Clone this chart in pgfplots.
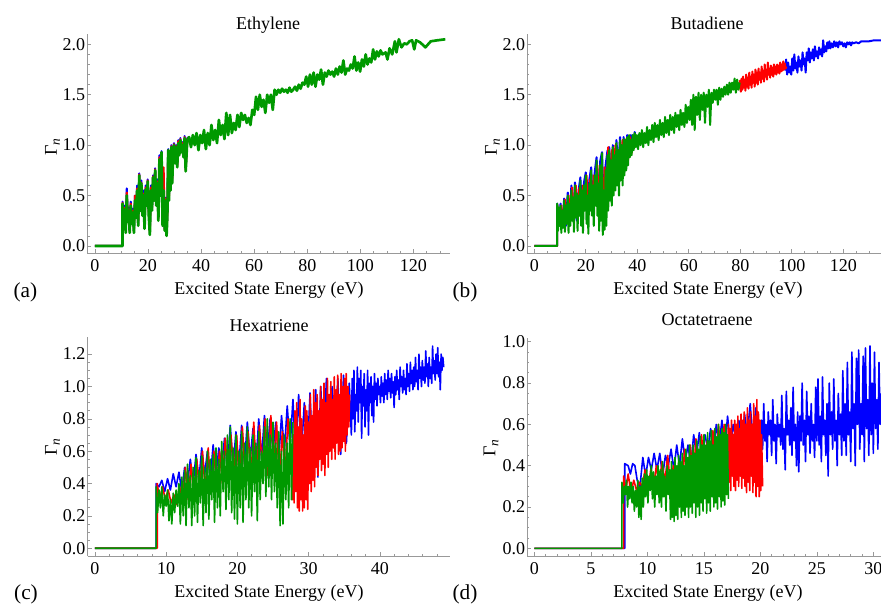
\documentclass[border=0pt]{standalone}
\usepackage{fontspec}
\setmainfont{Liberation Serif}
\usepackage{pgfplots}
\pgfplotsset{compat=1.18}
\definecolor{mblue}{rgb}{0,0,1}
\definecolor{mred}{rgb}{1,0,0}
\definecolor{mgreen}{rgb}{0,0.6,0}
\definecolor{axgray}{gray}{0.6}
\newcommand\ff{\fontsize{13.5}{16}\selectfont}
\newcommand\gam{{\ff Γ\raisebox{-0.35ex}{\fontsize{10}{12}\selectfont\itshape n}}}
\pgfplotsset{
 panel/.style={
  anchor=south west,
  axis x line=bottom, axis y line=left,
  axis line style={-, draw=axgray, line width=0.6pt},
  tick style={draw=axgray, line width=0.5pt},
  major tick length=3pt, minor tick length=1.6pt,
  tick align=inside,
  enlargelimits=false,
  ticklabel style={font=\ff, text=black},
  /pgf/number format/assume math mode=true,
  xticklabel style={anchor=north, inner sep=0pt, yshift=-5pt},
  yticklabel style={anchor=east, inner sep=0pt, xshift=-1.5pt,
    /pgf/number format/fixed, /pgf/number format/fixed zerofill, /pgf/number format/precision=1},
  every axis plot/.append style={line width=1.5pt, line join=round, mark=none},
 },
 thin panel/.style={every axis plot/.append style={line width=1.2pt}},
}
\begin{document}
\begin{tikzpicture}
\path[use as bounding box] (0,0) rectangle (660.75pt,454.5pt);
% ---------------- (a) Ethylene
\begin{axis}[panel, at={(65.6pt,264.75pt)}, x=1.991pt, y=75.6pt,
  xmin=-2.8, xmax=133.8, ymin=-0.07, ymax=2.10,
  xtick={0,20,40,60,80,100,120}, minor xtick={5,10,...,130},
  ytick={0,0.5,1.0,1.5,2.0}, minor y tick num=4]
\addplot[mblue] coordinates {(0,0) (10.4,0) (10.4,0.44) (10.8,0.25) (11.2,0.4) (11.6,0.16) (12.0,0.57) (12.4,0.3) (12.8,0.38) (13.1,0.15) (13.5,0.44) (13.9,0.25) (14.3,0.37) (14.7,0.15) (15.1,0.5) (15.5,0.3) (15.9,0.6) (16.3,0.22) (16.7,0.72) (17.1,0.38) (17.5,0.65) (17.9,0.32) (18.3,0.55) (18.7,0.2) (19.1,0.6) (19.5,0.42) (19.9,0.66) (20.3,0.33) (20.7,0.14) (21.1,0.6) (21.5,0.38) (21.9,0.7) (22.3,0.48) (22.7,0.77) (23.1,0.42) (23.5,0.66) (23.9,0.28) (24.3,0.9) (24.7,0.52) (25.1,0.94) (25.5,0.22) (25.9,0.58) (26.3,0.17) (26.7,0.48) (27.0,0.13) (27.3,0.35) (27.6,0.96) (27.9,0.5) (28.2,0.93) (28.5,0.6) (28.8,1.0) (29.1,0.65) (29.4,0.9) (29.8,1.02) (30.2,0.85) (30.6,1.0) (31.0,0.8) (31.4,1.05) (31.8,0.92) (32.2,1.07) (32.6,0.95) (33.0,1.03) (33.4,0.9) (33.8,1.09) (34.2,0.76) (34.8,1.07) (35.5,1.08)};
\addplot[mred] coordinates {(0,0) (10.4,0) (10.4,0.43) (10.8,0.22) (11.2,0.38) (11.6,0.15) (12.0,0.53) (12.4,0.27) (12.8,0.36) (13.1,0.14) (13.5,0.42) (13.9,0.24) (14.3,0.35) (14.7,0.14) (15.1,0.5) (15.5,0.29) (15.9,0.57) (16.3,0.21) (16.7,0.71) (17.1,0.37) (17.5,0.63) (17.9,0.31) (18.3,0.52) (18.7,0.19) (19.1,0.58) (19.5,0.41) (19.9,0.65) (20.3,0.32) (20.7,0.13) (21.1,0.58) (21.5,0.37) (21.9,0.69) (22.3,0.47) (22.7,0.76) (23.1,0.41) (23.5,0.64) (23.9,0.27) (24.3,0.88) (24.7,0.51) (25.1,0.93) (25.5,0.21) (25.9,0.78) (26.3,0.16) (26.7,0.47) (27.0,0.12) (27.3,0.33) (27.6,0.95) (27.9,0.48) (28.2,0.9) (28.5,0.58) (28.8,0.99) (29.1,0.64) (29.4,0.88) (29.8,1.01) (30.2,0.84) (30.6,0.99) (31.0,0.79) (31.4,1.04) (31.8,0.91) (32.2,1.06) (32.6,0.94) (33.0,1.02) (33.4,0.89) (33.8,1.08) (34.2,0.75) (34.8,1.06) (35.5,1.08)};
\addplot[mgreen, line width=2pt] coordinates {(0,0) (10.4,0) (10.4,0.42) (10.8,0.2) (11.2,0.36) (11.6,0.13) (12.0,0.5) (12.4,0.24) (12.8,0.35) (13.1,0.13) (13.5,0.4) (13.9,0.22) (14.3,0.33) (14.7,0.13) (15.1,0.45) (15.5,0.28) (15.9,0.55) (16.3,0.2) (16.7,0.7) (17.1,0.35) (17.5,0.62) (17.9,0.3) (18.3,0.5) (18.7,0.17) (19.1,0.56) (19.5,0.4) (19.9,0.64) (20.3,0.3) (20.7,0.11) (21.1,0.55) (21.5,0.35) (21.9,0.68) (22.3,0.45) (22.7,0.75) (23.1,0.4) (23.5,0.62) (23.9,0.25) (24.3,0.86) (24.7,0.5) (25.1,0.93) (25.5,0.2) (25.9,0.55) (26.3,0.15) (26.7,0.45) (27.0,0.1) (27.3,0.3) (27.6,0.95) (27.9,0.45) (28.2,0.88) (28.5,0.55) (28.8,0.98) (29.1,0.62) (29.4,0.85) (29.8,1.0) (30.2,0.82) (30.6,0.98) (31.0,0.78) (31.4,1.02) (31.8,0.9) (32.2,1.05) (32.6,0.93) (33.0,1.0) (33.4,0.88) (33.8,1.07) (34.2,0.74) (34.8,1.05)
(35.5,1.08) (36.2,0.98) (36.9,1.1) (37.6,1.0) (38.3,1.12) (39,0.95) (39.7,1.1) (40.4,1.02) (41.1,1.15) (41.8,0.96) (42.5,1.12) (43.2,1.0) (43.9,1.2) (44.6,1.05) (45.3,1.15) (46,1.02) (46.7,1.25) (47.4,1.1) (48.1,1.2) (48.8,1.06) (49.5,1.32) (50.2,1.1) (50.9,1.3) (51.6,1.12) (52.3,1.22) (53,1.15) (53.7,1.3) (54.4,1.18) (55.1,1.32) (55.8,1.25) (56.5,1.3) (57.2,1.22) (57.9,1.27) (58.6,1.2) (59.3,1.35) (60,1.3) (60.7,1.48) (61.4,1.35) (62.1,1.5) (62.8,1.38) (63.5,1.45) (64.2,1.32) (64.9,1.5) (65.6,1.42) (66.3,1.5) (67,1.35) (67.7,1.55) (68.4,1.5) (69.1,1.55) (69.8,1.52) (70.5,1.56) (71.2,1.53) (71.9,1.55) (72.6,1.52) (73.3,1.57) (74,1.53) (74.7,1.55) (75.4,1.58) (76.1,1.54) (76.8,1.6) (77.5,1.56) (78.2,1.62) (78.9,1.6) (79.6,1.68) (80.3,1.58) (81,1.7) (81.7,1.6) (82.4,1.72) (83.1,1.58) (83.8,1.7) (84.5,1.65) (85.2,1.75) (85.9,1.6) (86.6,1.72) (87.3,1.68) (88,1.74) (88.7,1.7) (89.4,1.73) (90.1,1.68) (90.8,1.76) (91.5,1.7) (92.2,1.78) (92.9,1.72) (93.6,1.84) (94.3,1.7) (95,1.76) (95.7,1.74) (96.4,1.8) (97.1,1.76) (97.8,1.88) (98.5,1.74) (99.2,1.82) (99.9,1.73) (100.6,1.85) (101.3,1.78) (102,1.9) (102.7,1.8) (103.4,1.86) (104.1,1.82) (104.8,1.95) (105.5,1.85) (106.2,1.93) (106.9,1.88) (107.6,1.94) (108.3,1.9) (109.5,1.92) (110.2,1.85) (111,1.96) (112,1.9) (113,2.03) (113.6,1.92) (114.5,2.05) (115.5,1.97) (116.5,2.01) (117.5,2.0) (118.5,2.03) (119.5,2.04) (120.3,1.95) (121,2.04) (122.5,2.02) (124.5,1.97) (126.5,2.03) (129,2.04) (132,2.05)};
\end{axis}
% ---------------- (b) Butadiene
\begin{axis}[panel, at={(395.5pt,264.75pt)}, x=1.931pt, y=75.6pt,
  xmin=-2.7, xmax=134.6, ymin=-0.07, ymax=2.10,
  xtick={0,20,40,60,80,100,120}, minor xtick={5,10,...,130},
  ytick={0,0.5,1.0,1.5,2.0}, minor y tick num=4]
\addplot[mblue] coordinates {(0,0) (8.9,0) (8.9,0.42) (9.5,0.2) (10.2,0.42) (10.9,0.2) (11.6,0.47) (12.3,0.2) (13.0,0.53) (13.7,0.2) (14.4,0.6) (15.1,0.25) (15.8,0.63) (16.5,0.25) (17.2,0.55) (17.9,0.68) (18.6,0.3) (19.3,0.63) (20.0,0.73) (20.7,0.3) (21.4,0.66) (22.1,0.78) (22.8,0.35) (23.5,0.74) (24.2,0.88) (24.9,0.4) (25.6,0.84) (26.3,0.93) (27.0,0.4) (27.7,0.8) (28.4,0.94) (29.1,0.98) (29.8,0.6) (30.5,1.0) (31.2,0.7) (31.9,1.05) (32.6,0.75) (33.3,1.08) (34.0,0.8) (34.7,1.08) (35.4,0.85) (36.1,1.1) (36.8,0.9) (37.5,1.1) (38.2,0.95) (39.0,1.13) (39.8,1.0)};
\addplot[mblue] coordinates {(97.5,1.74) (97.8,1.85) (98.2,1.7) (98.6,1.82) (99.0,1.72) (99.4,1.78) (99.8,1.7) (100.2,1.86) (100.6,1.74) (101.0,1.9) (101.4,1.76) (101.8,1.82) (102.2,1.72) (102.6,1.88) (103.0,1.78) (103.4,1.84) (103.8,1.74) (104.2,1.92) (104.6,1.8) (105.0,1.86) (105.4,1.72) (105.8,1.92) (106.2,1.84) (106.6,1.96) (107.0,1.82) (107.4,1.92) (107.8,1.86) (108.2,1.95) (108.6,1.84) (109.0,1.98) (109.4,1.88) (109.8,1.93) (110.2,1.86) (110.6,1.97) (111.0,1.9) (111.4,1.95) (111.8,1.88) (112.2,2.04) (112.6,1.92) (113.0,1.98) (113.4,1.93) (113.8,2.02) (114.2,1.96) (114.6,2.03) (115.0,1.96) (115.5,2.01) (116.0,1.97) (116.5,2.03) (117.0,1.98) (117.5,2.02) (118.0,1.97) (118.5,2.03) (119.0,2.0) (119.5,2.02) (120.0,1.98) (120.5,2.01) (121.0,1.97) (121.5,2.02) (122.0,2.0) (122.5,2.02) (123.0,1.99) (123.5,2.02) (124.0,2.01) (125.0,2.02) (126.0,2.01) (127.0,2.03) (128.5,2.03) (130,2.03) (132,2.04) (134.6,2.04)};
\addplot[mred] coordinates {(0,0) (8.9,0) (8.9,0.41) (9.8,0.22) (10.5,0.4) (11.2,0.22) (11.9,0.46) (12.6,0.25) (13.3,0.5) (14.0,0.25) (14.7,0.58) (15.4,0.28) (16.1,0.6) (16.8,0.3) (17.5,0.58) (18.2,0.3) (18.9,0.6) (19.6,0.38) (20.3,0.7) (21.0,0.3) (21.7,0.66) (22.4,0.4) (23.1,0.7) (23.8,0.45) (24.5,0.8) (25.2,0.3) (25.9,0.75) (26.6,0.25) (27.3,0.78) (28.0,0.35) (28.7,0.98) (29.4,0.55) (30.1,0.95) (30.8,0.6) (31.5,1.0) (32.2,0.7) (32.9,0.95) (33.6,0.75) (34.3,1.05) (35.0,0.8) (35.7,1.06) (36.4,0.85) (37.1,1.08) (37.8,0.92) (38.6,1.05) (39.4,1.0)};
\addplot[mred] coordinates {(79.6,1.56) (79.9,1.64) (80.2,1.53) (80.5,1.66) (80.8,1.55) (81.1,1.68) (81.4,1.57) (81.7,1.65) (82.0,1.54) (82.3,1.7) (82.6,1.58) (82.9,1.67) (83.2,1.56) (83.5,1.72) (83.8,1.6) (84.1,1.68) (84.4,1.57) (84.7,1.73) (85.0,1.62) (85.3,1.7) (85.6,1.58) (85.9,1.75) (86.2,1.62) (86.5,1.72) (86.8,1.6) (87.1,1.76) (87.4,1.65) (87.7,1.72) (88.0,1.62) (88.3,1.78) (88.6,1.66) (88.9,1.74) (89.2,1.63) (89.5,1.8) (89.8,1.68) (90.1,1.75) (90.4,1.65) (90.7,1.82) (91.0,1.7) (91.3,1.76) (91.6,1.67) (91.9,1.79) (92.2,1.7) (92.5,1.77) (92.8,1.68) (93.1,1.8) (93.4,1.71) (93.7,1.78) (94.0,1.7) (94.3,1.8) (94.6,1.72) (94.9,1.79) (95.2,1.71) (95.5,1.82) (95.8,1.73) (96.1,1.8) (96.4,1.74) (96.7,1.83) (97.0,1.75) (97.3,1.81) (97.6,1.76) (97.9,1.78)};
\addplot[mgreen] coordinates {(0,0) (8.9,0) (8.9,0.42) (9.2,0.15) (9.5,0.38) (9.8,0.2) (10.2,0.4) (10.5,0.13) (10.9,0.35) (11.2,0.18) (11.6,0.45) (11.9,0.14) (12.3,0.4) (12.6,0.22) (13.0,0.5) (13.3,0.13) (13.7,0.42) (14.0,0.2) (14.4,0.55) (14.7,0.25) (15.1,0.48) (15.4,0.14) (15.8,0.6) (16.1,0.28) (16.5,0.52) (16.8,0.15) (17.2,0.5) (17.5,0.3) (17.9,0.65) (18.2,0.2) (18.6,0.55) (18.9,0.13) (19.3,0.6) (19.6,0.35) (20.0,0.7) (20.3,0.22) (20.7,0.5) (21.0,0.12) (21.4,0.62) (21.7,0.35) (22.1,0.75) (22.4,0.3) (22.8,0.6) (23.1,0.2) (23.5,0.7) (23.8,0.4) (24.2,0.85) (24.5,0.3) (24.9,0.62) (25.2,0.15) (25.6,0.8) (25.9,0.25) (26.3,0.92) (26.6,0.11) (27.0,0.55) (27.3,0.16) (27.7,0.75) (28.0,0.2) (28.4,0.9) (28.7,0.35) (29.1,0.95) (29.4,0.45) (29.8,0.85) (30.1,0.4) (30.5,0.98) (30.8,0.5) (31.2,0.9) (31.5,0.55) (31.9,1.02) (32.2,0.6) (32.6,0.95) (32.9,0.5) (33.3,1.05) (33.6,0.65) (34.0,1.0) (34.3,0.6) (34.7,1.06) (35.0,0.7) (35.4,1.05) (35.7,0.75) (36.1,1.08) (36.4,0.8) (36.8,1.1) (37.1,0.88) (37.5,1.05) (37.8,0.9) (38.2,1.1) (38.6,0.95) (39.0,1.12) (39.4,0.98) (39.8,1.1)
(40.3,0.96) (40.8,1.12) (41.3,1.0) (41.8,1.15) (42.3,0.98) (42.8,1.12) (43.3,1.02) (43.8,1.18) (44.3,1.0) (44.8,1.15) (45.3,1.05) (45.8,1.2) (46.3,1.03) (46.8,1.22) (47.3,1.08) (47.8,1.2) (48.3,1.05) (48.8,1.25) (49.3,1.1) (49.8,1.22) (50.3,1.08) (50.8,1.28) (51.3,1.12) (51.8,1.25) (52.3,1.1) (52.8,1.3) (53.3,1.15) (53.8,1.28) (54.3,1.12) (54.8,1.32) (55.3,1.18) (55.8,1.3) (56.3,1.15) (56.8,1.35) (57.3,1.2) (57.8,1.32) (58.3,1.18) (58.8,1.4) (59.3,1.22) (59.8,1.38) (60.3,1.25) (60.8,1.45) (61.3,1.2) (61.8,1.5) (62.3,1.15) (62.8,1.48) (63.3,1.3) (63.8,1.52) (64.3,1.25) (64.8,1.5) (65.3,1.35) (65.8,1.52) (66.3,1.22) (66.8,1.5) (67.3,1.38) (67.8,1.55) (68.3,1.2) (68.8,1.52) (69.3,1.42) (69.8,1.55) (70.3,1.45) (70.8,1.55) (71.3,1.4) (71.8,1.57) (72.3,1.45) (72.8,1.56) (73.3,1.48) (73.8,1.58) (74.3,1.5) (74.8,1.6) (75.3,1.5) (75.8,1.62) (76.3,1.52) (76.8,1.62) (77.3,1.55) (77.8,1.66) (78.3,1.52) (78.8,1.65) (79.3,1.55) (79.8,1.62)};
\end{axis}
% ---------------- (c) Hexatriene
\begin{axis}[panel, thin panel, at={(65.8pt,37.5pt)}, x=5.344pt, y=121.3pt,
  xmin=-1.0, xmax=49.8, ymin=-0.048, ymax=1.303,
  xtick={0,10,20,30,40}, minor xtick={2,4,...,48},
  ytick={0,0.2,0.4,0.6,0.8,1.0,1.2}, minor y tick num=3]
\addplot[mblue] coordinates {(0,0) (8.6,0) (8.6,0.4) (9.0,0.38) (9.4,0.42) (9.8,0.35) (10.2,0.43) (10.6,0.36) (11.0,0.46) (11.4,0.38) (11.8,0.47) (12.2,0.35) (12.6,0.5) (13.0,0.4) (13.4,0.55) (13.8,0.4) (14.2,0.58) (14.6,0.42) (15.0,0.62) (15.4,0.45) (15.8,0.6) (16.2,0.42) (16.6,0.64) (17.0,0.45) (17.4,0.62) (17.8,0.5) (18.2,0.68) (18.6,0.48) (19.0,0.76) (19.4,0.5) (19.8,0.72) (20.2,0.5) (20.6,0.76) (21.0,0.52) (21.4,0.78) (21.8,0.55) (22.2,0.74) (22.6,0.5) (23.0,0.8) (23.4,0.55) (23.8,0.82) (24.2,0.58) (24.6,0.8) (25.0,0.6) (25.4,0.78) (25.8,0.55) (26.2,0.82) (26.6,0.6) (27.0,0.88) (27.4,0.62) (27.8,0.92) (28.2,0.55) (28.6,0.95) (29.0,0.6) (29.4,0.9) (29.8,0.55) (30.2,0.96) (30.6,0.5) (31.0,0.98) (31.3,0.44) (31.7,1.0) (32.1,0.6) (32.5,1.05) (32.9,0.65) (33.3,1.0) (33.7,0.62) (34.1,1.05) (34.5,0.58) (34.9,1.07) (35.3,0.65) (35.7,1.02)
(36.0,0.7) (36.12,1.05) (36.24,0.8) (36.36,1.1) (36.48,0.72) (36.6,0.95) (36.72,0.85) (36.84,1.12) (36.96,0.78) (37.08,1.05) (37.2,0.9) (37.32,1.1) (37.44,0.68) (37.56,1.0) (37.68,0.88) (37.8,1.08) (37.92,0.75) (38.04,0.98) (38.16,0.85) (38.28,1.1) (38.4,0.7) (38.52,1.02) (38.64,0.9) (38.76,1.06) (38.88,0.82) (39.0,1.0) (39.12,0.78) (39.24,1.08) (39.36,0.92) (39.48,1.02) (39.6,0.88) (39.72,1.05) (39.84,0.95) (39.96,1.0) (40.08,0.9) (40.2,1.06) (40.32,0.94) (40.44,1.02) (40.56,0.9) (40.68,1.08) (40.8,0.95) (40.92,1.04) (41.04,0.92) (41.16,1.1) (41.28,0.97) (41.4,1.05) (41.52,0.93) (41.64,1.08) (41.76,0.96) (41.88,1.03) (42.0,0.87) (42.12,1.06) (42.24,0.95) (42.36,1.1) (42.48,0.98) (42.6,1.04) (42.72,0.92) (42.84,1.12) (42.96,1.0) (43.08,1.06) (43.2,0.96) (43.32,1.1) (43.44,0.98) (43.56,1.05) (43.68,0.95) (43.8,1.14) (43.92,1.0) (44.04,1.08) (44.16,0.97) (44.28,1.15) (44.4,1.02) (44.52,1.1) (44.64,0.98) (44.76,1.12) (44.88,1.0) (45.0,1.18) (45.12,1.03) (45.24,1.1) (45.36,0.98) (45.48,1.2) (45.6,1.05) (45.72,1.12) (45.84,1.0) (45.96,1.16) (46.08,1.04) (46.2,1.12) (46.32,1.02) (46.44,1.22) (46.56,1.06) (46.68,1.14) (46.8,1.0) (46.92,1.18) (47.04,1.05) (47.16,1.12) (47.28,1.02) (47.4,1.25) (47.52,1.08) (47.64,1.16) (47.76,1.04) (47.88,1.2) (48.0,1.08) (48.12,1.24) (48.24,1.06) (48.36,1.15) (48.48,0.98) (48.6,1.2) (48.72,1.1) (48.84,1.18) (48.96,1.12)};
\addplot[mred] coordinates {(0,0) (8.75,0) (8.75,0.4) (9.1,0.3) (9.5,0.38) (9.9,0.3) (10.3,0.36) (10.7,0.28) (11.1,0.33) (11.5,0.27) (11.9,0.38) (12.3,0.28) (12.7,0.5) (13.1,0.3) (13.5,0.52) (13.9,0.3) (14.3,0.55) (14.7,0.35) (15.1,0.6) (15.5,0.35) (15.9,0.62) (16.3,0.35) (16.7,0.6) (17.1,0.38) (17.5,0.6) (17.9,0.4) (18.3,0.68) (18.7,0.4) (19.1,0.7) (19.5,0.45) (19.9,0.7) (20.3,0.38) (20.7,0.75) (21.1,0.45) (21.5,0.72) (21.9,0.42) (22.3,0.78) (22.7,0.45) (23.1,0.76) (23.5,0.5) (23.9,0.8) (24.3,0.45) (24.7,0.82) (25.1,0.5) (25.5,0.78) (25.9,0.4) (26.3,0.72) (26.7,0.45) (27.1,0.8)
(27.6,0.55) (27.72,0.3) (27.84,0.7) (27.96,0.28) (28.08,0.85) (28.2,0.35) (28.32,0.9) (28.44,0.25) (28.56,0.75) (28.68,0.23) (28.8,0.92) (28.92,0.3) (29.04,0.8) (29.16,0.23) (29.28,0.7) (29.4,0.25) (29.52,0.88) (29.64,0.3) (29.76,0.85) (29.88,0.24) (30.0,0.78) (30.12,0.4) (30.24,0.95) (30.36,0.35) (30.48,0.82) (30.6,0.42) (30.72,0.98) (30.84,0.38) (30.96,0.9) (31.08,0.5) (31.2,0.95) (31.32,0.45) (31.44,0.85) (31.56,0.55) (31.68,1.0) (31.8,0.48) (31.92,0.92) (32.04,0.52) (32.16,1.02) (32.28,0.45) (32.4,0.9) (32.52,0.58) (32.64,1.05) (32.76,0.5) (32.88,0.95) (33.0,0.6) (33.12,1.03) (33.24,0.55) (33.36,0.92) (33.48,0.62) (33.6,1.06) (33.72,0.55) (33.84,0.98) (33.96,0.65) (34.08,1.07) (34.2,0.58) (34.32,0.95) (34.44,0.6) (34.56,1.08) (34.68,0.62) (34.8,1.0) (34.92,0.66) (35.04,1.05) (35.16,0.6) (35.28,1.08) (35.4,0.7) (35.52,1.0) (35.64,0.75) (35.76,0.95)};
\addplot[mgreen] coordinates {(0,0) (8.6,0) (8.6,0.38) (8.8,0.22) (9.0,0.36) (9.2,0.25) (9.4,0.38) (9.6,0.2) (9.8,0.33) (10.0,0.26) (10.2,0.36) (10.4,0.17) (10.6,0.3) (10.8,0.15) (11.0,0.34) (11.2,0.22) (11.4,0.36) (11.6,0.26) (11.8,0.4) (12.0,0.15) (12.2,0.44) (12.4,0.2) (12.6,0.48) (12.8,0.14) (13.0,0.52) (13.2,0.25) (13.4,0.45) (13.6,0.14) (13.8,0.5) (14.0,0.2) (14.2,0.56) (14.4,0.16) (14.6,0.48) (14.8,0.28) (15.0,0.57) (15.2,0.14) (15.4,0.5) (15.6,0.22) (15.8,0.6) (16.0,0.18) (16.2,0.55) (16.4,0.3) (16.6,0.58) (16.8,0.16) (17.0,0.62) (17.2,0.25) (17.4,0.55) (17.6,0.2) (17.8,0.66) (18.0,0.35) (18.2,0.6) (18.4,0.24) (18.6,0.7) (18.8,0.3) (19.0,0.75) (19.2,0.22) (19.4,0.62) (19.6,0.18) (19.8,0.7) (20.0,0.15) (20.2,0.6) (20.4,0.25) (20.6,0.72) (20.8,0.16) (21.0,0.65) (21.2,0.3) (21.4,0.75) (21.6,0.25) (21.8,0.62) (22.0,0.2) (22.2,0.7) (22.4,0.35) (22.6,0.65) (22.8,0.17) (23.0,0.72) (23.2,0.3) (23.4,0.6) (23.6,0.4) (23.8,0.75) (24.0,0.32) (24.2,0.8) (24.4,0.38) (24.6,0.7) (24.8,0.3) (25.0,0.78) (25.2,0.35) (25.4,0.65) (25.6,0.25) (25.8,0.72) (26.0,0.14) (26.2,0.6) (26.4,0.15) (26.6,0.7) (26.8,0.3) (27.0,0.65) (27.2,0.25) (27.4,0.8) (27.6,0.3) (27.8,0.78)};
\end{axis}
% ---------------- (d) Octatetraene
\begin{axis}[panel, thin panel, at={(395.5pt,37.5pt)}, x=8.475pt, y=154.95pt,
  xmin=-0.62, xmax=30.68, ymin=-0.037, ymax=1.02,
  xtick={0,5,10,15,20,25,30}, minor xtick={1,2,...,30},
  ytick={0,0.2,0.4,0.6,0.8,1.0}, minor y tick num=3]
\addplot[mblue] coordinates {(0,0) (8.0,0) (8.0,0.41) (8.3,0.4) (8.5,0.36) (8.7,0.41) (8.9,0.4) (9.1,0.33) (9.35,0.3) (9.6,0.44) (9.85,0.35) (10.1,0.44) (10.35,0.38) (10.6,0.46) (10.85,0.38) (11.1,0.46) (11.35,0.35) (11.6,0.45) (11.85,0.4) (12.1,0.48) (12.35,0.38) (12.6,0.5) (12.85,0.4) (13.1,0.53) (13.35,0.42) (13.6,0.5) (13.85,0.4) (14.1,0.55) (14.35,0.45) (14.6,0.56) (14.85,0.45) (15.1,0.55) (15.35,0.48) (15.6,0.58) (15.85,0.46) (16.1,0.6) (16.35,0.5) (16.6,0.62) (16.85,0.48) (17.1,0.64) (17.35,0.5) (17.6,0.6) (17.85,0.52) (18.1,0.62) (18.35,0.5) (18.6,0.65) (18.85,0.55) (19.1,0.7) (19.35,0.52) (19.6,0.68)
(20.0,0.5) (20.1,0.62) (20.2,0.48) (20.3,0.7) (20.4,0.52) (20.5,0.6) (20.6,0.42) (20.7,0.66) (20.8,0.55) (20.9,0.62) (21.0,0.45) (21.1,0.72) (21.2,0.52) (21.3,0.6) (21.4,0.41) (21.5,0.65) (21.6,0.54) (21.7,0.6) (21.8,0.5) (21.9,0.74) (22.0,0.48) (22.1,0.58) (22.2,0.38) (22.3,0.76) (22.4,0.55) (22.5,0.62) (22.6,0.5) (22.7,0.68) (22.8,0.45) (22.9,0.78) (23.0,0.52) (23.1,0.6) (23.2,0.4) (23.3,0.66) (23.4,0.37) (23.5,0.64) (23.6,0.52) (23.7,0.8) (23.8,0.5) (23.9,0.62) (24.0,0.42) (24.1,0.76) (24.2,0.55) (24.3,0.64) (24.4,0.46) (24.5,0.7) (24.6,0.52) (24.7,0.6) (24.8,0.44) (24.9,0.78) (25.0,0.52) (25.1,0.82) (25.2,0.5) (25.3,0.64) (25.4,0.42) (25.5,0.83) (25.6,0.55) (25.7,0.62) (25.8,0.45) (25.9,0.7) (26.0,0.35) (26.1,0.8) (26.2,0.55) (26.3,0.66) (26.4,0.48) (26.5,0.82) (26.6,0.52) (26.7,0.62) (26.8,0.4) (26.9,0.75) (27.0,0.55) (27.1,0.65) (27.2,0.45) (27.3,0.86) (27.4,0.52) (27.5,0.7) (27.6,0.45) (27.7,0.9) (27.8,0.55) (27.9,0.66) (28.0,0.42) (28.1,0.95) (28.2,0.58) (28.3,0.7) (28.4,0.4) (28.5,0.92) (28.6,0.6) (28.7,0.96) (28.8,0.48) (28.9,0.7) (29.0,0.55) (29.1,0.93) (29.2,0.42) (29.3,0.97) (29.4,0.58) (29.5,0.72) (29.6,0.45) (29.7,0.98) (29.8,0.55) (29.9,0.8) (30.0,0.46) (30.1,0.95) (30.2,0.58) (30.3,0.72) (30.4,0.48) (30.5,0.9) (30.6,0.6) (30.7,0.75)};
\addplot[mred] coordinates {(0,0) (7.9,0) (7.9,0.35) (8.1,0.28) (8.3,0.36) (8.55,0.27) (8.8,0.33) (9.05,0.28) (9.3,0.32) (9.55,0.3) (9.8,0.38) (10.05,0.28) (10.3,0.38) (10.55,0.3) (10.8,0.4) (11.05,0.3) (11.3,0.42) (11.55,0.32) (11.8,0.45) (12.05,0.3) (12.3,0.4) (12.55,0.28) (12.8,0.42) (13.05,0.3) (13.3,0.48) (13.55,0.3) (13.8,0.5) (14.05,0.32) (14.3,0.53) (14.55,0.35) (14.8,0.55) (15.05,0.35) (15.3,0.52) (15.55,0.38) (15.8,0.57) (16.05,0.38) (16.3,0.6) (16.55,0.4) (16.8,0.6)
(17.1,0.4) (17.17,0.6) (17.24,0.32) (17.31,0.58) (17.38,0.28) (17.45,0.62) (17.52,0.35) (17.59,0.55) (17.66,0.3) (17.73,0.62) (17.8,0.28) (17.87,0.6) (17.94,0.33) (18.01,0.64) (18.08,0.3) (18.15,0.58) (18.22,0.35) (18.29,0.65) (18.36,0.29) (18.43,0.62) (18.5,0.34) (18.57,0.66) (18.64,0.3) (18.71,0.6) (18.78,0.27) (18.85,0.68) (18.92,0.32) (18.99,0.62) (19.06,0.28) (19.13,0.66) (19.2,0.35) (19.27,0.6) (19.34,0.27) (19.41,0.7) (19.48,0.32) (19.55,0.64) (19.62,0.25) (19.69,0.72) (19.76,0.3) (19.83,0.66) (19.9,0.25) (19.97,0.62) (20.04,0.28) (20.11,0.55) (20.2,0.3)};
\addplot[mgreen] coordinates {(0,0) (7.75,0) (7.75,0.32) (7.85,0.22) (7.95,0.3) (8.05,0.26) (8.15,0.33) (8.25,0.2) (8.35,0.3) (8.45,0.24) (8.55,0.32) (8.65,0.22) (8.75,0.3) (8.85,0.18) (8.95,0.28) (9.05,0.2) (9.15,0.33) (9.25,0.15) (9.35,0.3) (9.45,0.14) (9.55,0.34) (9.65,0.2) (9.75,0.36) (9.85,0.25) (9.95,0.38) (10.05,0.22) (10.15,0.35) (10.25,0.28) (10.35,0.4) (10.45,0.24) (10.55,0.37) (10.65,0.2) (10.75,0.35) (10.85,0.26) (10.95,0.4) (11.05,0.22) (11.15,0.38) (11.25,0.2) (11.35,0.42) (11.45,0.25) (11.55,0.35) (11.65,0.18) (11.75,0.4) (11.85,0.26) (11.95,0.38) (12.05,0.14) (12.13,0.42) (12.21,0.15) (12.29,0.38) (12.37,0.13) (12.45,0.44) (12.53,0.16) (12.61,0.4) (12.69,0.14) (12.77,0.45) (12.85,0.2) (12.93,0.42) (13.01,0.15) (13.09,0.46) (13.17,0.18) (13.25,0.4) (13.33,0.16) (13.41,0.48) (13.49,0.2) (13.57,0.44) (13.65,0.15) (13.73,0.5) (13.81,0.2) (13.89,0.45) (13.97,0.17) (14.05,0.5) (14.13,0.22) (14.21,0.46) (14.29,0.15) (14.37,0.52) (14.45,0.2) (14.53,0.48) (14.61,0.16) (14.69,0.54) (14.77,0.22) (14.85,0.5) (14.93,0.18) (15.01,0.55) (15.09,0.24) (15.17,0.5) (15.25,0.17) (15.33,0.56) (15.41,0.22) (15.49,0.52) (15.57,0.18) (15.65,0.57) (15.73,0.25) (15.81,0.5) (15.89,0.2) (15.97,0.58) (16.05,0.22) (16.13,0.54) (16.21,0.19) (16.29,0.6) (16.37,0.25) (16.45,0.55) (16.53,0.2) (16.61,0.58) (16.69,0.23) (16.77,0.56) (16.85,0.21) (16.93,0.6) (17.01,0.26) (17.09,0.55) (17.17,0.24)};
\end{axis}
% ---------------- texts
\node[anchor=base, font=\ff] at (201pt,432pt) {Ethylene};
\node[anchor=base, font=\ff] at (530.25pt,432pt) {Butadiene};
\node[anchor=base, font=\ff] at (201.75pt,205.5pt) {Hexatriene};
\node[anchor=base, font=\ff] at (530.25pt,210pt) {Octatetraene};
\node[anchor=base, font=\ff] at (201.75pt,233.25pt) {Excited State Energy (eV)};
\node[anchor=base, font=\ff] at (531pt,233.25pt) {Excited State Energy (eV)};
\node[anchor=base, font=\ff] at (201.75pt,6.4pt) {Excited State Energy (eV)};
\node[anchor=base, font=\ff] at (531pt,6.4pt) {Excited State Energy (eV)};
\node[rotate=90, inner sep=0pt] at (39.4pt,344.25pt) {\gam};
\node[rotate=90, inner sep=0pt] at (369.4pt,344.25pt) {\gam};
\node[rotate=90, inner sep=0pt] at (39.4pt,119.25pt) {\gam};
\node[rotate=90, inner sep=0pt] at (368.25pt,118.5pt) {\gam};
\node[anchor=base, font=\fontsize{16}{18}\selectfont] at (19.1pt,231pt) {(a)};
\node[anchor=base, font=\fontsize{16}{18}\selectfont] at (348.75pt,231pt) {(b)};
\node[anchor=base, font=\fontsize{16}{18}\selectfont] at (19.5pt,4.5pt) {(c)};
\node[anchor=base, font=\fontsize{16}{18}\selectfont] at (348.75pt,4.5pt) {(d)};
\end{tikzpicture}
\end{document}
